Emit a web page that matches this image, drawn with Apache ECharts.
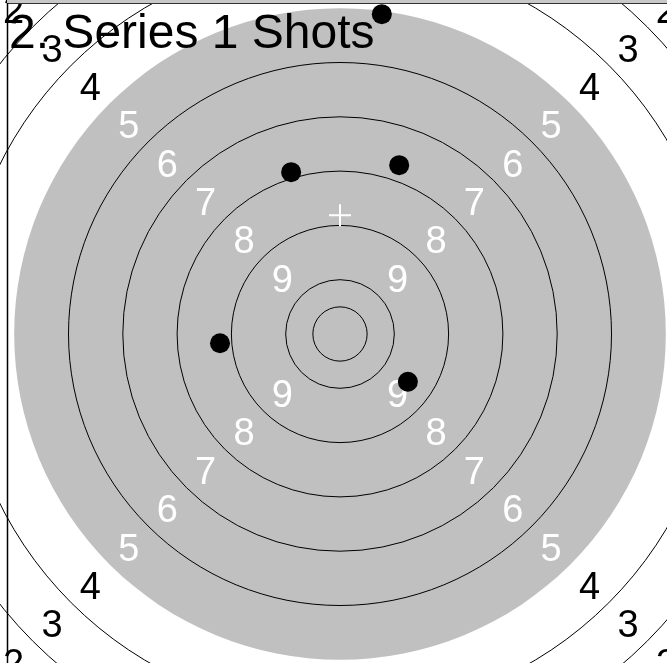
<!DOCTYPE html>
<html>
<head>
<meta charset="utf-8">
<script src="https://cdn.jsdelivr.net/npm/echarts@6/dist/echarts.min.js"></script>
<style>
  html, body { margin: 0; padding: 0; background: #fff; }
  #main { width: 667px; height: 663px; }
</style>
</head>
<body>
<div id="main"></div>
<script>
// target drawn in "ring units" (1 unit = width of one scoring ring)
var ringLines = [0.5, 1, 2, 3, 4, 5, 7, 8, 9, 10];   // black circles
var blackRadius = 6;                                   // gray aiming disc
var ringValues = [9, 8, 7, 6, 5, 4, 3, 2];            // numbers printed on the target
// shots of series 1, [x, y] in ring units from the centre
var shotsX = [0.77, -0.90, 1.09, -2.21, 1.25];
var shotsY = [5.89, 2.98, 3.11, -0.17, -0.88];

var titleText = '2. Series 1 Shots';

// pixel frame of the plot
var W = 667, H = 663, cx = 340, cy = 334, unit = 54.3;

var labelData = [];
var diag = [[-1, 1], [1, 1], [-1, -1], [1, -1]];
ringValues.forEach(function (v) {
  var d = (10.5 - v) / Math.SQRT2;
  diag.forEach(function (s) {
    labelData.push({
      value: [s[0] * d, s[1] * d],
      label: { formatter: String(v), color: v >= 5 ? '#ffffff' : '#000000' }
    });
  });
});

var shots = shotsX.map(function (x, i) { return [x, shotsY[i]]; });
var meanX = shotsX.reduce(function (a, b) { return a + b; }, 0) / shotsX.length;
var meanY = shotsY.reduce(function (a, b) { return a + b; }, 0) / shotsY.length;

function circle(fill, stroke) {
  return function (params, api) {
    var c = api.coord([0, 0]);
    var r = api.size([api.value(2), 0])[0];
    return {
      type: 'circle',
      shape: { cx: c[0], cy: c[1], r: r },
      style: { fill: fill, stroke: stroke, lineWidth: 1 }
    };
  };
}

var myChart = echarts.init(document.getElementById('main'));
var option = {
  animation: false,
  backgroundColor: '#fff',
  title: {
    text: titleText,
    left: 9,
    top: 11,
    padding: 0,
    textStyle: { fontFamily: 'Liberation Sans', fontSize: 48, fontWeight: 'normal', color: '#000' }
  },
  grid: { left: 0, right: 0, top: 0, bottom: 0 },
  xAxis: { type: 'value', min: -cx / unit, max: (W - cx) / unit, show: false },
  yAxis: { type: 'value', min: -(H - cy) / unit, max: cy / unit, show: false },
  graphic: [
    { type: 'rect', shape: { x: 7, y: 0, width: 670, height: 3 }, style: { fill: '#c8c8c8' }, z: 100 },
    { type: 'line', shape: { x1: 7, y1: 3.5, x2: 667, y2: 3.5 }, style: { stroke: '#333', lineWidth: 1 }, z: 100 },
    { type: 'line', shape: { x1: 7.5, y1: 3, x2: 7.5, y2: 663 }, style: { stroke: '#000', lineWidth: 1.5 }, z: 100 }
  ],
  series: [
    {
      type: 'custom',
      clip: false,
      silent: true,
      z: 1,
      renderItem: circle('#c0c0c0', null),
      encode: { x: 0, y: 1 },
      data: [[0, 0, blackRadius]]
    },
    {
      type: 'custom',
      clip: false,
      silent: true,
      z: 2,
      renderItem: circle(null, '#000'),
      encode: { x: 0, y: 1 },
      data: ringLines.map(function (r) { return [0, 0, r]; })
    },
    {
      type: 'scatter',
      z: 3,
      silent: true,
      symbolSize: 1,
      itemStyle: { color: 'rgba(0,0,0,0)' },
      label: {
        show: true,
        position: 'inside',
        offset: [0, 5],
        opacity: 1,
        fontFamily: 'Liberation Sans',
        fontSize: 38
      },
      data: labelData
    },
    {
      type: 'scatter',
      name: 'MPI',
      z: 4,
      symbol: 'path://M-1,-11H1V-1H11V1H1V11H-1V1H-11V-1H-1Z',
      symbolSize: 22,
      itemStyle: { color: '#ffffff', opacity: 1 },
      data: [[meanX, meanY]]
    },
    {
      type: 'scatter',
      name: 'Series 1',
      z: 5,
      symbolSize: 20,
      itemStyle: { color: '#000000', opacity: 1 },
      data: shots
    }
  ]
};
myChart.setOption(option);
</script>
</body>
</html>
